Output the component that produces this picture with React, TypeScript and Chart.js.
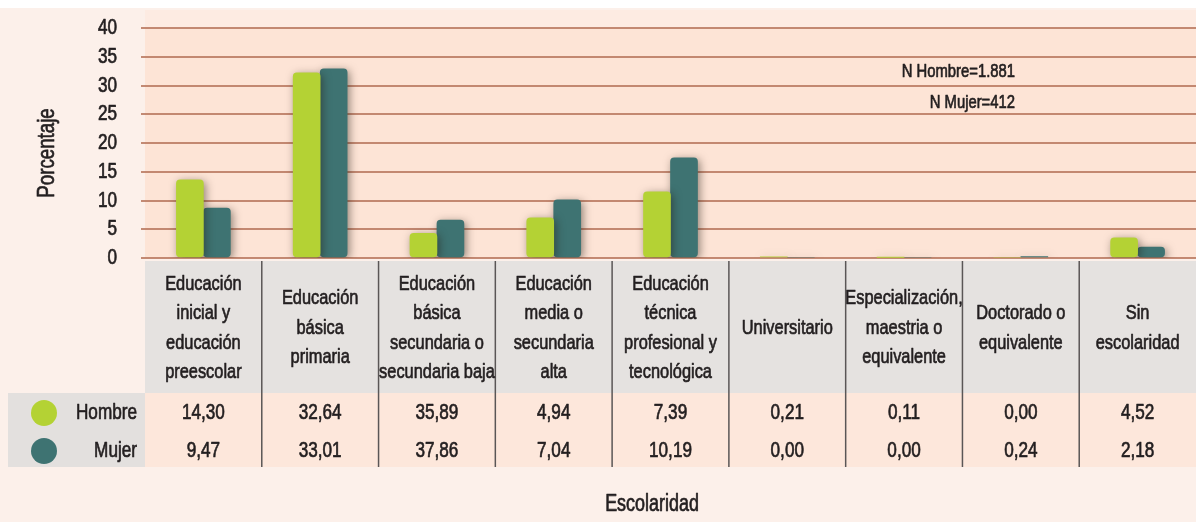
import React, { useEffect, useRef } from "react";
import { Chart, registerables } from "chart.js";

Chart.register(...registerables);

// ---- Data ----
const categorias: string[][] = [
  ["Educación", "inicial y", "educación", "preescolar"],
  ["Educación", "básica", "primaria"],
  ["Educación", "básica", "secundaria o", "secundaria baja"],
  ["Educación", "media o", "secundaria", "alta"],
  ["Educación", "técnica", "profesional y", "tecnológica"],
  ["Universitario"],
  ["Especialización,", "maestria o", "equivalente"],
  ["Doctorado o", "equivalente"],
  ["Sin", "escolaridad"],
];
const series = ["Hombre", "Mujer"];
// bar heights as drawn in the picture
const barrasHombre = [13.6, 32.2, 4.3, 7.0, 11.5, 0.21, 0.11, 0.0, 3.5];
const barrasMujer = [8.7, 32.9, 6.6, 10.1, 17.4, 0.0, 0.0, 0.24, 1.9];
// values printed in the table
const tablaHombre = [14.3, 32.64, 35.89, 4.94, 7.39, 0.21, 0.11, 0.0, 4.52];
const tablaMujer = [9.47, 33.01, 37.86, 7.04, 10.19, 0.0, 0.0, 0.24, 2.18];
const yTicks = [0, 5, 10, 15, 20, 25, 30, 35, 40];
const notas = ["N Hombre=1.881", "N Mujer=412"];
const tituloY = "Porcentaje";
const tituloX = "Escolaridad";

const colores = ["#b4d234", "#3e7372"];
const TXT = "#231f20";

function texto(
  ctx: CanvasRenderingContext2D,
  s: string,
  x: number,
  y: number,
  size: number,
  align: CanvasTextAlign,
  rot = 0,
  sx = 0.78
) {
  ctx.save();
  ctx.font = `normal ${size}px "Liberation Sans", Arial, sans-serif`;
  ctx.fillStyle = TXT;
  ctx.strokeStyle = TXT;
  ctx.lineWidth = 0.7;
  ctx.lineJoin = "round";
  ctx.textBaseline = "middle";
  ctx.textAlign = align;
  ctx.translate(x, y);
  if (rot) ctx.rotate(rot);
  ctx.scale(sx, 1);
  ctx.fillText(s, 0, 0);
  ctx.strokeText(s, 0, 0);
  ctx.restore();
}

const fmt = (v: number) => v.toFixed(2).replace(".", ",");

const fondo = {
  id: "fondo",
  beforeDraw(chart: any) {
    const { ctx, chartArea, width, height } = chart;
    ctx.save();
    ctx.fillStyle = "#ffffff";
    ctx.fillRect(0, 0, width, height);
    ctx.fillStyle = "#fcf0ea";
    ctx.fillRect(0, 8, width, height - 8);
    ctx.fillStyle = "#fdebe2";
    ctx.fillRect(chartArea.left, 10, chartArea.right - chartArea.left, chartArea.top - 10);
    ctx.fillStyle = "#fde4d6";
    ctx.fillRect(chartArea.left, chartArea.top, chartArea.right - chartArea.left, chartArea.bottom - chartArea.top);
    // table header
    ctx.fillStyle = "#e5e2e0";
    ctx.fillRect(chartArea.left, 261, chartArea.right - chartArea.left, 132);
    // table values
    ctx.fillStyle = "#fde7db";
    ctx.fillRect(chartArea.left, 393, chartArea.right - chartArea.left, 74);
    // legend block
    ctx.fillStyle = "#e3e0de";
    ctx.fillRect(8, 393, chartArea.left - 8, 74);
    ctx.restore();
  },
  beforeDatasetsDraw(chart: any) {
    const ctx = chart.ctx;
    ctx.save();
    ctx.shadowColor = "rgba(40,30,20,0.5)";
    ctx.shadowBlur = 8;
    ctx.shadowOffsetX = 2;
    ctx.shadowOffsetY = 2;
  },
  afterDatasetsDraw(chart: any) {
    chart.ctx.restore();
  },
  afterDraw(chart: any) {
    const { ctx, scales } = chart;
    const x = scales.x;
    const y = scales.y;
    // y tick labels
    yTicks.forEach((v) => texto(ctx, String(v), 117, y.getPixelForValue(v), 22, "right"));
    texto(ctx, tituloY, 47, 153, 24, "center", -Math.PI / 2);
    // notes
    texto(ctx, notas[0], 1015, 72, 19, "right");
    texto(ctx, notas[1], 1015, 103, 19, "right");
    // column separators
    ctx.save();
    ctx.strokeStyle = "#5a5656";
    ctx.lineWidth = 1.5;
    for (let i = 0; i < categorias.length - 1; i++) {
      const px = (x.getPixelForValue(i) + x.getPixelForValue(i + 1)) / 2;
      ctx.beginPath();
      ctx.moveTo(px, 261);
      ctx.lineTo(px, 467);
      ctx.stroke();
    }
    ctx.restore();
    // category labels and values
    const lh = 29.5;
    categorias.forEach((lines, i) => {
      const cx = x.getPixelForValue(i);
      const y0 = 328 - ((lines.length - 1) * lh) / 2;
      lines.forEach((l, k) => texto(ctx, l, cx, y0 + k * lh, 21, "center"));
      texto(ctx, fmt(tablaHombre[i]), cx, 413, 22, "center");
      texto(ctx, fmt(tablaMujer[i]), cx, 451, 22, "center");
    });
    // legend
    const rows = [413, 451];
    series.forEach((s, k) => {
      ctx.save();
      ctx.fillStyle = colores[k];
      ctx.beginPath();
      ctx.arc(44, rows[k], 13, 0, Math.PI * 2);
      ctx.fill();
      ctx.restore();
      texto(ctx, s, 137, rows[k], 22, "right");
    });
    texto(ctx, tituloX, 652, 505, 23, "center");
  },
};

export default function App() {
  const ref = useRef<HTMLCanvasElement>(null);
  useEffect(() => {
    document.body.style.margin = "0";
    const chart = new Chart(ref.current as HTMLCanvasElement, {
      type: "bar",
      data: {
        labels: categorias.map((c) => c.join(" ")),
        datasets: [
          {
            label: series[0],
            data: barrasHombre,
            backgroundColor: colores[0],
            barThickness: 27,
            borderRadius: 4,
            borderSkipped: false,
          },
          {
            label: series[1],
            data: barrasMujer,
            backgroundColor: colores[1],
            barThickness: 27,
            borderRadius: 4,
            borderSkipped: false,
          },
        ],
      },
      options: {
        responsive: false,
        animation: false,
        layout: { padding: { top: 28, bottom: 264, left: 0, right: 0 } },
        plugins: {
          legend: { display: false },
          tooltip: { enabled: false },
        },
        scales: {
          x: { display: false, grid: { display: false } },
          y: {
            min: 0,
            max: 40,
            ticks: { stepSize: 5, display: false },
            grid: { color: "rgba(185,120,95,0.85)", lineWidth: 2, drawTicks: true, tickLength: 4 },
            border: { display: false },
            afterFit: (s: any) => {
              s.width = 145;
            },
          },
        },
      },
      plugins: [fondo],
    });
    return () => chart.destroy();
  }, []);
  return (
    <div style={{ width: 1196, height: 522 }}>
      <canvas ref={ref} width={1196} height={522} />
    </div>
  );
}
